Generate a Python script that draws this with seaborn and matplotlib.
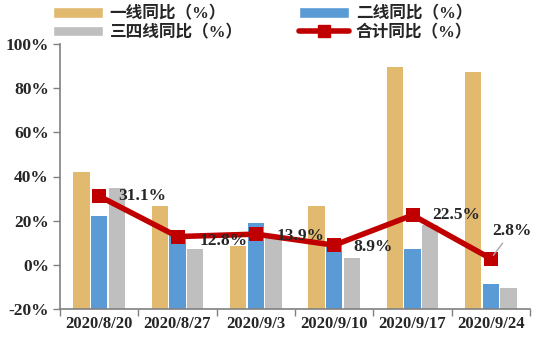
import numpy as np
import pandas as pd
import matplotlib
matplotlib.use("Agg")
import matplotlib.pyplot as plt
import seaborn as sns
from matplotlib.patches import Patch
from matplotlib.lines import Line2D

dates = ["2020/8/20", "2020/8/27", "2020/9/3", "2020/9/10", "2020/9/17", "2020/9/24"]
tier1 = [42.0, 26.7, 8.6, 26.7, 89.6, 87.4]
tier2 = [22.0, 13.5, 19.0, 9.0, 7.2, -8.5]
tier34 = [35.0, 7.0, 13.0, 3.0, 18.0, -10.5]
total = [31.1, 12.8, 13.9, 8.9, 22.5, 2.8]
total_labels = ["31.1%", "12.8%", "13.9%", "8.9%", "22.5%", "2.8%"]
series_names = ["一线同比（%）", "二线同比（%）", "三四线同比（%）"]
total_name = "合计同比（%）"
yticks = [-20, 0, 20, 40, 60, 80, 100]

colors = ["#E1B96F", "#5B9BD5", "#BFBFBF"]
red = "#C00000"
base = -20

sns.set_theme(style="white")
plt.rcParams['font.family'] = ['Liberation Serif', 'Noto Sans CJK SC', 'DejaVu Sans']
plt.rcParams['font.weight'] = 'bold'

fig = plt.figure(figsize=(5.42, 3.38), dpi=100)
ax = fig.add_axes([60/542, (338-309)/338, (530-60)/542, (309-44)/338])

df = pd.DataFrame({
    "date": dates * 3,
    "series": np.repeat(series_names, len(dates)),
    "value": tier1 + tier2 + tier34,
})
df["height"] = df["value"] - base

sns.barplot(data=df, x="date", y="height", hue="series", order=dates,
            hue_order=series_names, palette=colors, width=0.68, gap=0.08,
            bottom=base, ax=ax, legend=False, saturation=1, linewidth=0)

xs = np.arange(len(dates))
sns.lineplot(x=xs, y=total, color=red, linewidth=4, marker="s", markersize=10,
             markeredgewidth=0, ax=ax, zorder=5)

offsets = [(14, 0), (16, -3), (15, -1.5), (14, -1), (14, 0)]
for i, (v, lab) in enumerate(zip(total, total_labels)):
    if i == len(total) - 1:
        ax.annotate(lab, xy=(i, v), xytext=(i + 0.27, v + 12.6), ha="center", va="center",
                    fontsize=12.5, fontweight="bold", zorder=6,
                    arrowprops=dict(arrowstyle="-", color="#A6A6A6", lw=1, shrinkA=1, shrinkB=3))
    else:
        ax.annotate(lab, xy=(i, v), xytext=offsets[i], textcoords="offset points",
                    ha="left", va="center", fontsize=12.5, fontweight="bold", zorder=6)

ax.set_xlim(-0.5, len(dates) - 0.5)
ax.set_ylim(-20, 100)
ax.set_yticks(yticks)
ax.set_yticklabels([f"{t}%" for t in yticks], fontsize=12.5, fontweight="bold")
ax.set_xticks(xs)
ax.set_xticklabels(dates, fontsize=12, fontweight="bold")
ax.set_xticks(np.arange(-0.5, len(dates), 1.0), minor=True)
ax.tick_params(axis="x", which="major", length=0, pad=5)
ax.tick_params(axis="x", which="minor", length=5, width=1, color="#808080", direction="out", bottom=True)
ax.tick_params(axis="y", length=5, width=1, color="#808080", direction="out", left=True, pad=3)
ax.set_xlabel("")
ax.set_ylabel("")
for s in ["top", "right"]:
    ax.spines[s].set_visible(False)
for s in ["left", "bottom"]:
    ax.spines[s].set_color("#808080")
    ax.spines[s].set_linewidth(1.2)

handles = [Patch(facecolor=colors[0]), Patch(facecolor=colors[2]),
           Patch(facecolor=colors[1]), Line2D([0], [0], color=red, lw=4, marker="s", markersize=8)]
labels = [series_names[0], series_names[2], series_names[1], total_name]
fig.legend(handles, labels, ncol=2, loc="upper left", bbox_to_anchor=(38/542, 1.025),
           frameon=False, handlelength=3.0, handleheight=0.6,
           columnspacing=3.4, labelspacing=0.15, handletextpad=0.4,
           prop={"family": ["Liberation Serif", "Noto Sans CJK SC"], "weight": "heavy", "size": 12})

fig.savefig("out.png", dpi=100)
